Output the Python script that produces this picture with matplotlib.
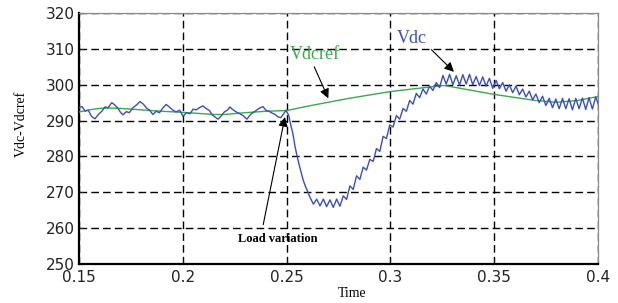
import matplotlib
matplotlib.use("Agg")
import matplotlib.pyplot as plt

# ---------------- data ----------------
vdcref_t = [0.150, 0.155, 0.160, 0.165, 0.170, 0.180, 0.190, 0.200, 0.210,
            0.215, 0.220, 0.230, 0.240, 0.250, 0.260, 0.280, 0.300, 0.315,
            0.326, 0.350, 0.370, 0.380, 0.390, 0.400]
vdcref_v = [292.4, 293.0, 293.4, 293.5, 293.4, 293.0, 292.6, 292.3, 291.9,
            291.7, 291.7, 292.2, 292.6, 292.8, 294.0, 296.2, 298.1, 299.1,
            299.8, 297.3, 295.6, 295.1, 295.6, 296.7]

vdc_t = [0.1500, 0.1515, 0.1530, 0.1545, 0.1560, 0.1577, 0.1595, 0.1610, 0.1625,
         0.1640, 0.1658, 0.1672, 0.1688, 0.1700, 0.1712, 0.1728, 0.1742, 0.1760,
         0.1778, 0.1794, 0.1810, 0.1825, 0.1840, 0.1856, 0.1872, 0.1888, 0.1905,
         0.1920, 0.1935, 0.1950, 0.1968, 0.1985, 0.2001, 0.2018, 0.2035, 0.2050,
         0.2065, 0.2080, 0.2097, 0.2112, 0.2128, 0.2142, 0.2155, 0.2170, 0.2185,
         0.2200, 0.2215, 0.2227, 0.2242, 0.2258, 0.2272, 0.2290, 0.2309, 0.2325,
         0.2340, 0.2355, 0.2370, 0.2386, 0.2400, 0.2415, 0.2430, 0.2445, 0.2460,
         0.2472, 0.2485, 0.2497,
         0.2510, 0.2520, 0.2530, 0.2540, 0.2550, 0.2560, 0.2570, 0.2580, 0.2590,
         0.2600, 0.2613, 0.2629, 0.2645, 0.2661, 0.2677, 0.2693, 0.2709, 0.2725,
         0.2741, 0.2757, 0.2773, 0.2789, 0.2805, 0.2821, 0.2837, 0.2853, 0.2869,
         0.2885, 0.2901, 0.2917, 0.2933, 0.2949, 0.2965, 0.2981, 0.2997, 0.3013,
         0.3029, 0.3045, 0.3061, 0.3077, 0.3093, 0.3109, 0.3125, 0.3141, 0.3157,
         0.3173, 0.3189, 0.3205, 0.3221, 0.3237, 0.3253, 0.3269, 0.3285, 0.3301,
         0.3317, 0.3333, 0.3349, 0.3365, 0.3381, 0.3397, 0.3413, 0.3429, 0.3445,
         0.3461, 0.3477, 0.3493, 0.3509, 0.3525, 0.3541, 0.3557, 0.3573, 0.3589,
         0.3605, 0.3621, 0.3637, 0.3653, 0.3669, 0.3685, 0.3701, 0.3717, 0.3733,
         0.3749, 0.3765, 0.3781, 0.3797, 0.3813, 0.3829, 0.3845, 0.3861, 0.3877,
         0.3893, 0.3909, 0.3925, 0.3941, 0.3957, 0.3973, 0.3989, 0.4005]
vdc_v = [293.6, 293.9, 292.6, 292.9, 291.2, 290.5, 291.8, 292.6, 293.8,
         293.6, 295.0, 294.4, 293.4, 292.3, 291.6, 292.5, 292.2, 293.6,
         294.4, 295.3, 294.6, 293.5, 292.9, 291.7, 292.6, 292.2, 293.6,
         294.5, 293.8, 293.0, 292.4, 292.9, 291.2, 292.2, 291.9, 293.2,
         293.0, 293.6, 294.1, 293.4, 292.8, 291.6, 291.0, 290.4, 291.3,
         292.4, 292.9, 293.8, 293.0, 292.4, 292.0, 291.4, 290.4, 291.6,
         292.3, 292.9, 293.5, 293.9, 292.9, 292.6, 292.1, 291.7, 291.0,
         290.8, 291.8, 292.9,
         291.5, 288.8, 286.5, 283.0, 280.2, 277.8, 275.6, 273.4, 271.8,
         270.4, 268.6, 266.7, 268.1, 266.2, 268.1, 266.0, 267.9, 265.8,
         268.1, 266.1, 269.0, 268.0, 271.8, 270.8, 274.6, 273.6, 277.0,
         276.2, 279.2, 278.6, 282.2, 281.4, 285.6, 285.0, 288.8, 288.2,
         291.4, 290.4, 293.4, 292.6, 295.6, 294.6, 297.6, 296.4, 298.8,
         297.4, 299.6, 298.4, 300.6, 299.2, 302.6, 300.2, 302.9, 300.0,
         302.5, 299.9, 302.8, 300.2, 302.9, 300.0, 302.3, 299.8, 302.2,
         299.6, 301.8, 299.0, 301.2, 298.9, 300.6, 298.2, 300.0, 297.8,
         299.6, 297.2, 298.8, 296.6, 298.2, 295.8, 297.4, 295.0, 296.8,
         294.2, 296.2, 293.6, 296.0, 293.3, 296.2, 293.3, 296.1, 293.0,
         296.2, 293.3, 296.3, 293.1, 296.4, 293.2, 296.6, 294.0]

x_ticks = [0.15, 0.2, 0.25, 0.3, 0.35, 0.4]
x_tick_labels = ["0.15", "0.2", "0.25", "0.3", "0.35", "0.4"]
y_ticks = [250, 260, 270, 280, 290, 300, 310, 320]
y_tick_labels = ["250", "260", "270", "280", "290", "300", "310", "320"]

# ---------------- figure ----------------
fig = plt.figure(figsize=(6.18, 3.03), dpi=100)
ax = fig.add_axes([0.1278, 0.1287, 0.8398, 0.8283])

blue = "#3a4fb5"
green = "#3aa84c"

ax.plot(vdcref_t, vdcref_v, color=green, lw=1.0, zorder=3)
ax.plot(vdc_t, vdc_v, color=blue, lw=1.0, zorder=4)

ax.set_xlim(0.15, 0.4)
ax.set_ylim(250, 320)
ax.set_xticks(x_ticks)
ax.set_xticklabels(x_tick_labels)
ax.set_yticks(y_ticks)
ax.set_yticklabels(y_tick_labels)

ax.grid(True, color="black", linestyle=(0, (5.5, 3.0)), linewidth=1.0, zorder=1)
ax.set_axisbelow(True)

for side in ("left", "bottom"):
    ax.spines[side].set_color("black")
    ax.spines[side].set_linewidth(1.6)
for side in ("top", "right"):
    ax.spines[side].set_color("#8a8a8a")
    ax.spines[side].set_linewidth(0.9)

ax.tick_params(axis="both", direction="in", length=3, width=0.8,
               labelsize=11, colors="#222222")
ax.tick_params(axis="x", pad=4)
ax.tick_params(axis="y", pad=3)
for lab in ax.get_xticklabels() + ax.get_yticklabels():
    lab.set_family("DejaVu Sans")

ax.set_xlabel("Time", family="Liberation Serif", fontsize=10)
ax.xaxis.set_label_coords(0.527, -0.093)
ax.set_ylabel("Vdc-Vdcref", family="Liberation Serif", fontsize=10)
ax.yaxis.set_label_coords(-0.098, 0.56)

# annotations
ax.annotate("Vdcref", xy=(0.2701, 296.2), xytext=(0.2516, 308.5),
            color=green, family="Liberation Serif", fontsize=13,
            ha="left", va="center",
            arrowprops=dict(arrowstyle="-|>", color="black", lw=0.8,
                            mutation_scale=14, shrinkA=1, shrinkB=0,
                            relpos=(0.45, 0.0)))
ax.annotate("Vdc", xy=(0.3306, 303.6), xytext=(0.3030, 313.0),
            color=blue, family="Liberation Serif", fontsize=13,
            ha="left", va="center",
            arrowprops=dict(arrowstyle="-|>", color="black", lw=0.8,
                            mutation_scale=14, shrinkA=2, shrinkB=0,
                            relpos=(1.0, 0.1)))
ax.annotate("Load variation", xy=(0.2492, 291.0), xytext=(0.2456, 257.0),
            color="black", family="Liberation Serif", fontsize=9,
            fontweight="bold", ha="center", va="center",
            arrowprops=dict(arrowstyle="-|>", color="black", lw=0.8,
                            mutation_scale=14, shrinkA=4, shrinkB=0,
                            relpos=(0.3, 1.0)))

fig.savefig("out.png", dpi=100)
